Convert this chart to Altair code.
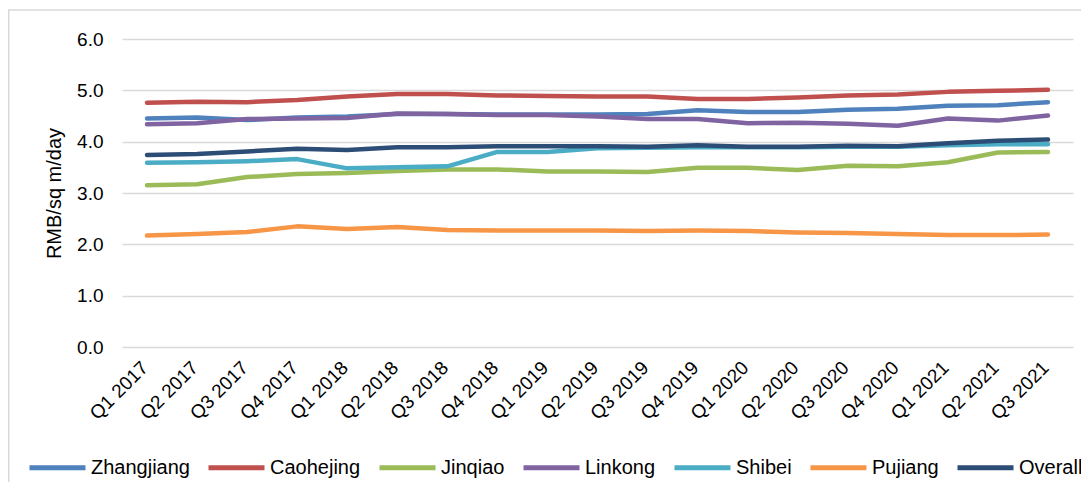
import altair as alt
import pandas as pd

quarters = ["Q1 2017", "Q2 2017", "Q3 2017", "Q4 2017",
            "Q1 2018", "Q2 2018", "Q3 2018", "Q4 2018",
            "Q1 2019", "Q2 2019", "Q3 2019", "Q4 2019",
            "Q1 2020", "Q2 2020", "Q3 2020", "Q4 2020",
            "Q1 2021", "Q2 2021", "Q3 2021"]

zhangjiang = [4.45, 4.47, 4.42, 4.47, 4.49, 4.54, 4.54, 4.53, 4.53, 4.53,
              4.54, 4.61, 4.58, 4.58, 4.62, 4.64, 4.70, 4.71, 4.77]
caohejing = [4.76, 4.78, 4.77, 4.81, 4.88, 4.93, 4.93, 4.90, 4.89, 4.88,
             4.88, 4.83, 4.83, 4.86, 4.90, 4.92, 4.97, 4.99, 5.01]
jinqiao = [3.15, 3.17, 3.31, 3.37, 3.39, 3.43, 3.46, 3.46, 3.42, 3.42,
           3.41, 3.49, 3.49, 3.45, 3.53, 3.52, 3.60, 3.79, 3.80]
linkong = [4.34, 4.36, 4.44, 4.45, 4.46, 4.55, 4.54, 4.52, 4.52, 4.49,
           4.44, 4.44, 4.36, 4.37, 4.35, 4.31, 4.45, 4.41, 4.51]
shibei = [3.59, 3.60, 3.62, 3.66, 3.48, 3.50, 3.52, 3.80, 3.80, 3.87,
          3.88, 3.89, 3.89, 3.89, 3.90, 3.90, 3.93, 3.95, 3.95]
pujiang = [2.17, 2.20, 2.24, 2.35, 2.30, 2.34, 2.28, 2.27, 2.27, 2.27,
           2.26, 2.27, 2.26, 2.23, 2.22, 2.20, 2.18, 2.18, 2.19]
overall = [3.74, 3.76, 3.81, 3.86, 3.84, 3.89, 3.89, 3.91, 3.91, 3.91,
           3.90, 3.93, 3.90, 3.90, 3.92, 3.91, 3.97, 4.02, 4.04]

series_names = ["Zhangjiang", "Caohejing", "Jinqiao", "Linkong", "Shibei", "Pujiang", "Overall"]
series_values = [zhangjiang, caohejing, jinqiao, linkong, shibei, pujiang, overall]
series_colors = ["#4F81BD", "#C0504D", "#9BBB59", "#8064A2", "#4BACC6", "#F79646", "#2C4D75"]
y_ticks = [0, 1, 2, 3, 4, 5, 6]

rows = []
for name, vals in zip(series_names, series_values):
    for q, v in zip(quarters, vals):
        rows.append({"Quarter": q, "Series": name, "Value": v})
df = pd.DataFrame(rows)

FONT = "Liberation Sans"

color_scale = alt.Scale(domain=series_names, range=series_colors)

layers = []
for i, name in enumerate(series_names):
    enc = dict(
        x=alt.X("Quarter:N", sort=quarters, title=None,
                axis=alt.Axis(labelAngle=-45, labelFontSize=19, labelFont=FONT,
                              labelColor="#000000", labelPadding=11, labelOffset=-9,
                              ticks=False, domain=False, grid=False, labelAlign="right",
                              labelBaseline="top")),
        y=alt.Y("Value:Q", title="RMB/sq m/day",
                scale=alt.Scale(domain=[0, 6], nice=False),
                axis=alt.Axis(values=y_ticks, format=".1f", labelFontSize=19,
                              labelFont=FONT, labelColor="#000000", labelPadding=19,
                              ticks=False, domain=False, grid=True,
                              gridColor="#D9D9D9", gridWidth=1.5,
                              titleFont=FONT, titleFontSize=20, titleFontWeight="normal",
                              titleColor="#000000", titleX=-68, titleY=154,
                              titleAngle=-90, titleAlign="center",
                              titleBaseline="middle")),
        color=alt.Color("Series:N", scale=color_scale,
                        legend=alt.Legend(title=None, orient="none", direction="horizontal",
                                          legendX=-95, legendY=398,
                                          symbolType="stroke", symbolSize=3136,
                                          symbolStrokeWidth=5, labelFont=FONT,
                                          labelFontSize=20, labelColor="#000000",
                                          labelOffset=3, columnPadding=8,
                                          values=series_names)),
    )
    layer = alt.Chart(df).transform_filter(
        alt.datum.Series == name
    ).mark_line(strokeWidth=4.5, strokeCap="round", strokeJoin="round").encode(**enc)
    layers.append(layer)

border = alt.Chart(pd.DataFrame({"b": [0]})).mark_rect(
    fill=None, stroke="#D9D9D9", strokeWidth=1.5
).encode(x=alt.value(-113.25), x2=alt.value(1500), y=alt.value(-29), y2=alt.value(900))

chart = alt.layer(*layers, border).properties(
    width=951, height=308,
    padding={"left": 114, "top": 31, "right": 8, "bottom": 135},
    autosize=alt.AutoSizeParams(type="none"),
).configure_view(stroke=None)

chart.save("out.html", embed_options={"renderer": "svg", "actions": False})
